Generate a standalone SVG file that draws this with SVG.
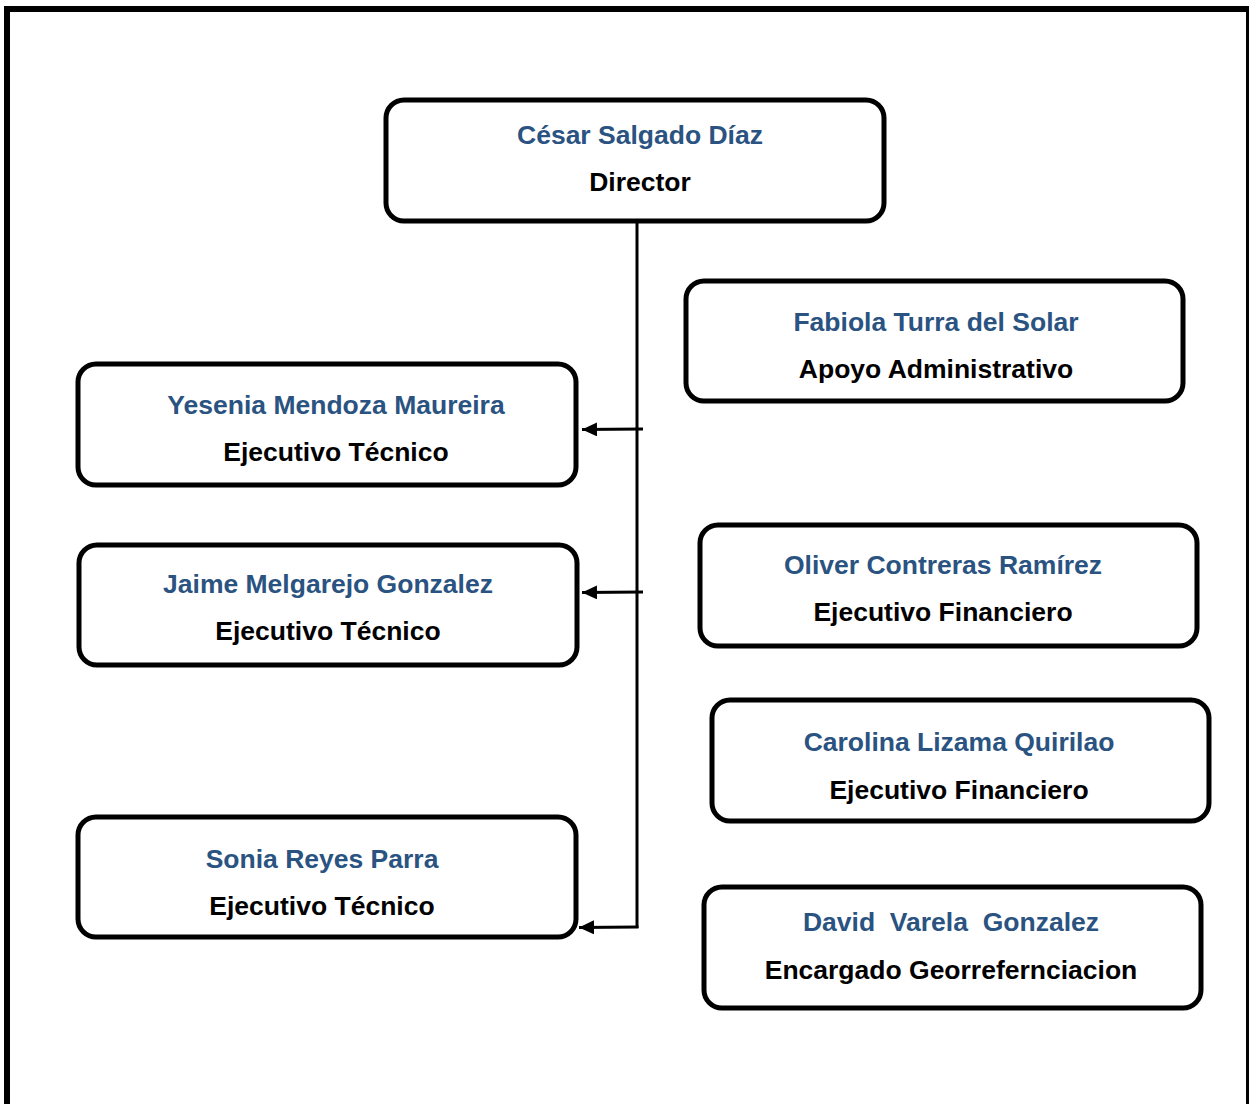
<svg xmlns="http://www.w3.org/2000/svg" width="1249" height="1104" viewBox="0 0 1249 1104">
<style>
.box{fill:#fff;stroke:#000;stroke-width:5}
.nm{font-family:"Liberation Sans",Arial,sans-serif;font-weight:bold;font-size:26.5px;fill:#2a5381;text-anchor:middle}
.rl{font-family:"Liberation Sans",Arial,sans-serif;font-weight:bold;font-size:26.5px;fill:#000;text-anchor:middle}
.ln{fill:none;stroke:#000;stroke-width:3}
</style>
<defs>
<marker id="ah" markerWidth="16" markerHeight="14" refX="15" refY="7" orient="auto" markerUnits="userSpaceOnUse">
<path d="M0,0 L15,7 L0,14 Z" fill="#000"/>
</marker>
</defs>
<rect x="0" y="0" width="1249" height="1104" fill="#fff"/>
<rect x="7" y="9" width="1242" height="1120" fill="none" stroke="#000" stroke-width="6"/>
<g id="connectors">
<line class="ln" x1="637" y1="222" x2="637" y2="928"/>
<line class="ln" x1="638.5" y1="927" x2="579" y2="927.5" marker-end="url(#ah)"/>
<line class="ln" x1="643" y1="429" x2="582" y2="429.5" marker-end="url(#ah)"/>
<line class="ln" x1="643" y1="592" x2="582" y2="592.5" marker-end="url(#ah)"/>
</g>
<g id="director">
<rect class="box" x="386" y="100" width="498" height="121" rx="18"/>
<text class="nm" x="640" y="144">César Salgado Díaz</text>
<text class="rl" x="640" y="191">Director</text>
</g>
<g id="fabiola">
<rect class="box" x="686" y="281" width="497" height="120" rx="18"/>
<text class="nm" x="936" y="331">Fabiola Turra del Solar</text>
<text class="rl" x="936" y="378">Apoyo Administrativo</text>
</g>
<g id="yesenia">
<rect class="box" x="78" y="364" width="498" height="121" rx="18"/>
<text class="nm" x="336" y="414">Yesenia Mendoza Maureira</text>
<text class="rl" x="336" y="461">Ejecutivo Técnico</text>
</g>
<g id="jaime">
<rect class="box" x="79" y="545" width="498" height="120" rx="18"/>
<text class="nm" x="328" y="593">Jaime Melgarejo Gonzalez</text>
<text class="rl" x="328" y="640">Ejecutivo Técnico</text>
</g>
<g id="oliver">
<rect class="box" x="700" y="525" width="497" height="121" rx="18"/>
<text class="nm" x="943" y="574">Oliver Contreras Ramírez</text>
<text class="rl" x="943" y="621">Ejecutivo Financiero</text>
</g>
<g id="carolina">
<rect class="box" x="712" y="700" width="497" height="121" rx="18"/>
<text class="nm" x="959" y="751">Carolina Lizama Quirilao</text>
<text class="rl" x="959" y="799">Ejecutivo Financiero</text>
</g>
<g id="sonia">
<rect class="box" x="78" y="817" width="498" height="120" rx="18"/>
<text class="nm" x="322" y="868">Sonia Reyes Parra</text>
<text class="rl" x="322" y="915">Ejecutivo Técnico</text>
</g>
<g id="david">
<rect class="box" x="704" y="887" width="497" height="121" rx="18"/>
<text class="nm" x="951" y="931" xml:space="preserve">David  Varela  Gonzalez</text>
<text class="rl" x="951" y="979">Encargado Georrefernciacion</text>
</g>
</svg>
